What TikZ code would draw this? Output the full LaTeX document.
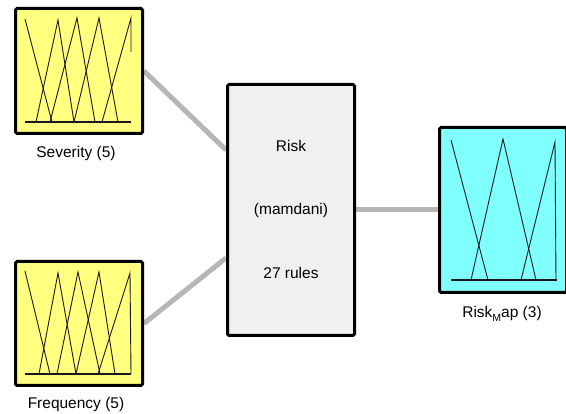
\documentclass[tikz,border=0pt]{standalone}
\usepackage{fontspec}
\setmainfont{Liberation Sans}
\usetikzlibrary{backgrounds,calc}
\definecolor{fisyellow}{RGB}{255,255,128}
\definecolor{fiscyan}{RGB}{128,255,255}
\definecolor{fisgray}{RGB}{240,240,240}
\definecolor{linkgray}{RGB}{182,182,182}
\tikzset{
  fisbox/.style={draw=black, line width=3pt, rounded corners=1.5pt, rectangle, inner sep=0pt, minimum width=127pt},
  lbl/.style={font=\fontsize{15.5}{18}\selectfont, inner sep=0pt},
  link/.style={draw=linkgray, line width=5pt},
  mf/.style={draw=black!90, line width=0.9pt, line join=miter},
  base/.style={draw=black!90, line width=1.1pt},
}
\begin{document}
\begin{tikzpicture}[x=1pt,y=-1pt]
\useasboundingbox (0,0) rectangle (566,414);
% boxes
\node[fisbox, fill=fisyellow, minimum height=125pt] (sev) at (79,71) {};
\node[fisbox, fill=fisyellow, minimum height=124pt] (freq) at (79,323.5) {};
\node[fisbox, fill=fisgray, minimum height=251pt] (risk) at (291,210) {};
\node[fisbox, fill=fiscyan, minimum height=165pt] (map) at (503,210) {};
% texts
\node[lbl] (sevlab) at (76,153) {Severity (5)};
\node[lbl] (freqlab) at (76,404) {Frequency (5)};
\node[lbl] (maplab) at (502,314) {Risk\raisebox{-0.45ex}{\fontsize{10.5}{12}\selectfont M}ap (3)};
\node[lbl] (rk1) at (291,146) {Risk};
\node[lbl] (rk2) at (291,210) {(mamdani)};
\node[lbl] (rk3) at (291,273) {27 rules};
% connectors
\begin{scope}[on background layer]
\draw[link] (sev.east) -- ([yshift=60pt]risk.west);
\draw[link] (freq.east) -- ([yshift=-48pt]risk.west);
\draw[link] (risk.east) -- (map.west);
\end{scope}
% Severity membership functions
\draw[base] (25,122) -- (131,122);
\draw[mf] (25,19) -- (52,122);
\draw[mf] (36,122) -- (58,20) -- (74,122);
\draw[mf] (50,122) -- (77,18) -- (95,122);
\draw[mf] (74,122) -- (99,18) -- (118,122);
\draw[mf] (102,122) -- (131,18) -- (131,52);
% Frequency membership functions
\draw[base] (25,374) -- (131,374);
\draw[mf] (25,271) -- (50,374);
\draw[mf] (39,374) -- (58,273) -- (76,374);
\draw[mf] (57,374) -- (78,272) -- (100,374);
\draw[mf] (76,374) -- (99,272) -- (115,374);
\draw[mf] (98,374) -- (130,273) -- (131,374);
% Risk_Map membership functions
\draw[base] (451,280) -- (557,280);
\draw[mf] (451,140) -- (488,280);
\draw[mf] (471,280) -- (503,139) -- (536,280);
\draw[mf] (521,280) -- (555,142) -- (556,280);
\end{tikzpicture}
\end{document}
